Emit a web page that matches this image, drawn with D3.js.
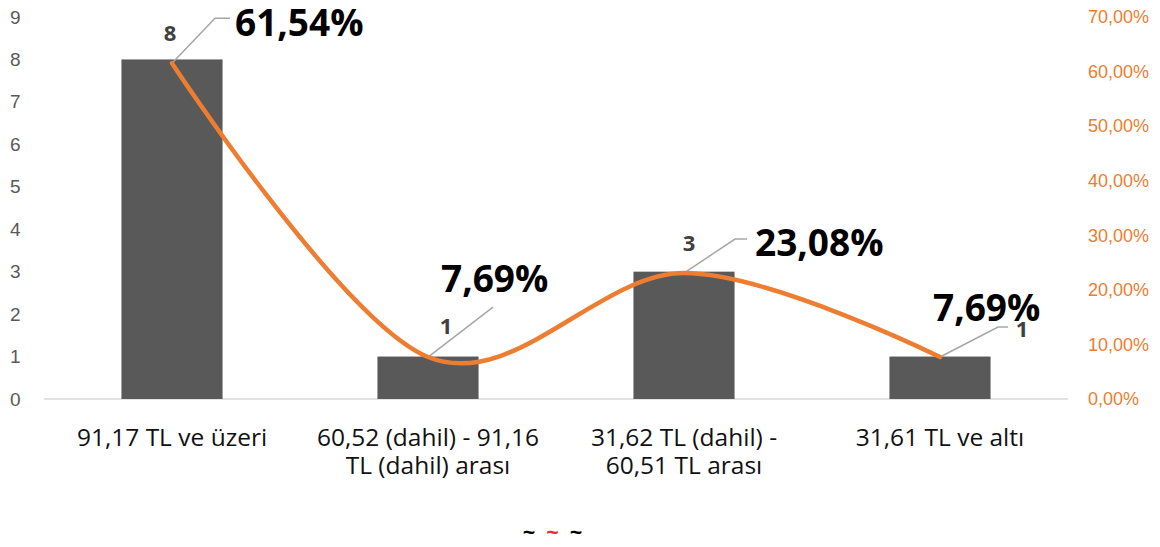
<!DOCTYPE html>
<html>
<head>
<meta charset="utf-8">
<script src="https://cdn.jsdelivr.net/npm/d3@7"></script>
<style>
  html, body { margin: 0; padding: 0; background: #fff; }
  svg { display: block; font-family: "Open Sans", sans-serif; }
</style>
</head>
<body>
<div id="chart"></div>
<script>
// chart data
const categories = [
  "91,17 TL ve üzeri",
  "60,52 (dahil) - 91,16\nTL (dahil) arası",
  "31,62 TL (dahil) -\n60,51 TL arası",
  "31,61 TL ve altı"
];
const counts = [8, 1, 3, 1];
const shares = [0.6154, 0.0769, 0.2308, 0.0769];
const countTicks = [0, 1, 2, 3, 4, 5, 6, 7, 8, 9];
const shareTicks = [0, 0.1, 0.2, 0.3, 0.4, 0.5, 0.6, 0.7];

// label placement (pixel offsets from the line point), as Excel left them
const pctLabelOffset = [[63, -41], [13, -78], [71, -30], [-7, -49]];
const leaderOffset = [
  [[43, -45], [58, -45]],
  [[65, -50]],
  [[51, -34], [63, -34]],
  [[58, -30], [68, -30]]
];
const countLabelOffset = [[-2, -26], [18, -30], [5, -29], [82, -27]];

const W = 1160, H = 547;
const plotLeft = 44, plotRight = 1068, plotTop = 17, plotBottom = 399;

const svg = d3.select('#chart').append('svg')
  .attr('width', W)
  .attr('height', H);

const x = d3.scaleBand()
  .domain(categories)
  .range([plotLeft, plotRight])
  .paddingInner(0.605)
  .paddingOuter(0.3025);
const yL = d3.scaleLinear().domain([0, 9]).range([plotBottom, plotTop]);
const yR = d3.scaleLinear().domain([0, 0.7]).range([plotBottom, plotTop]);
const cx = d => x(d) + x.bandwidth() / 2;

// baseline
svg.append('line')
  .attr('x1', plotLeft).attr('x2', plotRight)
  .attr('y1', plotBottom).attr('y2', plotBottom)
  .attr('stroke', '#d9d9d9').attr('stroke-width', 1.5);

// left axis
const axL = svg.append('g')
  .attr('transform', `translate(10, 0)`)
  .call(d3.axisLeft(yL).tickValues(countTicks).tickSize(0).tickPadding(0).tickFormat(d3.format('d')));
axL.select('.domain').remove();
axL.selectAll('text')
  .attr('text-anchor', 'start')
  .attr('fill', '#595959')
  .style('font-size', '19px');

// right axis
const pctFmt = d => (d * 100).toFixed(2).replace('.', ',') + '%';
const axR = svg.append('g')
  .attr('transform', `translate(1088, 0)`)
  .call(d3.axisRight(yR).tickValues(shareTicks).tickSize(0).tickPadding(0).tickFormat(pctFmt));
axR.select('.domain').remove();
axR.selectAll('text')
  .attr('fill', '#ED7D31')
  .style('font-size', '18px');

// category labels, one text per line
const catG = svg.append('g');
categories.forEach(c => {
  c.split('\n').forEach((line, i) => {
    catG.append('text')
      .attr('x', cx(c))
      .attr('y', 437 + i * 28)
      .attr('dy', '0.36em')
      .attr('text-anchor', 'middle')
      .attr('fill', '#111')
      .style('font-size', '24.5px')
      .text(line);
  });
});

// bars
svg.selectAll('.bar')
  .data(counts)
  .enter()
  .append('rect')
  .attr('class', 'bar')
  .attr('x', (d, i) => x(categories[i]))
  .attr('width', x.bandwidth())
  .attr('y', d => yL(d))
  .attr('height', d => plotBottom - yL(d))
  .attr('fill', '#595959');

// count labels
svg.selectAll('.count-label')
  .data(counts)
  .enter()
  .append('text')
  .attr('class', 'count-label')
  .attr('x', (d, i) => cx(categories[i]) + countLabelOffset[i][0])
  .attr('y', (d, i) => yL(d) + countLabelOffset[i][1])
  .attr('dy', '0.36em')
  .attr('text-anchor', 'middle')
  .attr('fill', '#404040')
  .style('font-size', '22px')
  .style('font-weight', 'bold')
  .text(d => d);

// share line
const pts = shares.map((s, i) => [cx(categories[i]), yR(s)]);

// leader lines
pts.forEach((p, i) => {
  const path = [p].concat(leaderOffset[i].map(o => [p[0] + o[0], p[1] + o[1]]));
  svg.append('path')
    .attr('d', d3.line()(path))
    .attr('fill', 'none')
    .attr('stroke', '#a6a6a6')
    .attr('stroke-width', 1.5);
});

svg.append('path')
  .datum(pts)
  .attr('d', d3.line().curve(d3.curveCardinal.tension(0)))
  .attr('fill', 'none')
  .attr('stroke', '#ED7D31')
  .attr('stroke-width', 4.5)
  .attr('stroke-linecap', 'round');

// share labels
svg.selectAll('.pct-label')
  .data(shares)
  .enter()
  .append('text')
  .attr('class', 'pct-label')
  .attr('x', (d, i) => pts[i][0] + pctLabelOffset[i][0])
  .attr('y', (d, i) => pts[i][1] + pctLabelOffset[i][1])
  .attr('dy', '0.36em')
  .attr('fill', '#000')
  .style('font-size', '37px')
  .style('font-weight', 'bold')
  .text(d => pctFmt(d));

// legend remnants at the bottom
const legendMarks = [['~', '#000'], ['~', '#e8312f'], ['~', '#000']];
svg.selectAll('.legend-mark')
  .data(legendMarks)
  .enter()
  .append('text')
  .attr('class', 'legend-mark')
  .attr('x', (d, i) => 529 + i * 23.5)
  .attr('y', 540)
  .attr('text-anchor', 'middle')
  .attr('fill', d => d[1])
  .style('font-size', '22px')
  .style('font-weight', 'bold')
  .text(d => d[0]);
</script>
</body>
</html>
